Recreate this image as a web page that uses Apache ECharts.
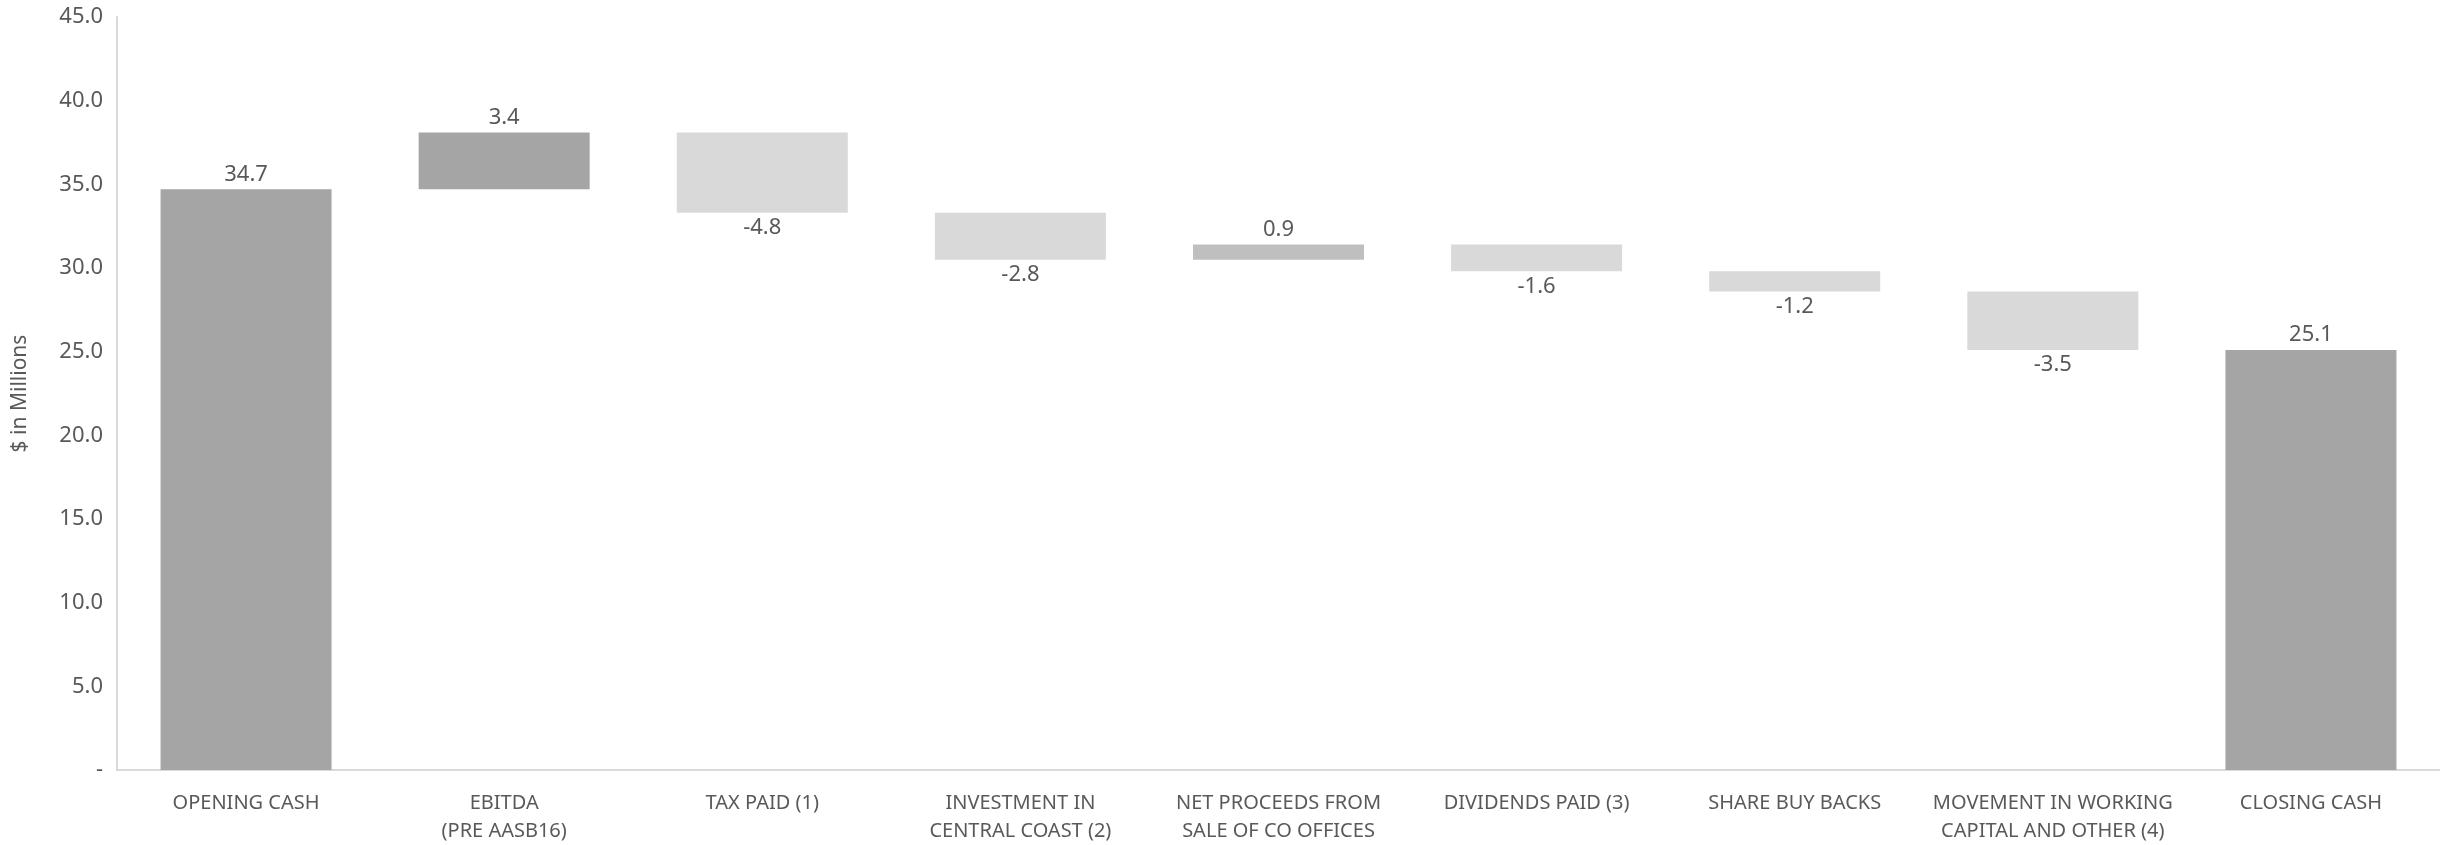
<!DOCTYPE html>
<html>
<head>
<meta charset="utf-8">
<script src="https://cdn.jsdelivr.net/npm/echarts@6/dist/echarts.min.js"></script>
<style>
html,body{margin:0;padding:0;background:#fff;}
#chart{width:2440px;height:845px;}
</style>
</head>
<body>
<div id="chart"></div>
<script>
const categories = ['OPENING CASH', 'EBITDA\n(PRE AASB16)', 'TAX PAID (1)', 'INVESTMENT IN\nCENTRAL COAST (2)', 'NET PROCEEDS FROM\nSALE OF CO OFFICES', 'DIVIDENDS PAID (3)', 'SHARE BUY BACKS', 'MOVEMENT IN WORKING\nCAPITAL AND OTHER (4)', 'CLOSING CASH'];
const values = [34.7, 3.4, -4.8, -2.8, 0.9, -1.6, -1.2, -3.5, 25.1];
const isTotal = [true, false, false, false, false, false, false, false, true];
const barColors = ['#A5A5A5', '#A5A5A5', '#D9D9D9', '#D9D9D9', '#BFBFBF', '#D9D9D9', '#D9D9D9', '#D9D9D9', '#A5A5A5'];
const yTicks = { min: 0, max: 45, interval: 5 };

// build stacked base/visible parts from the values
const baseData = [];
const barData = [];
let running = 0;
values.forEach((v, i) => {
  if (isTotal[i]) {
    baseData.push(0);
    barData.push({ value: v, raw: v, itemStyle: { color: barColors[i] }, label: { position: 'top' } });
    running = v;
  } else {
    const start = running, end = running + v;
    baseData.push(Math.min(start, end));
    barData.push({ value: Math.abs(v), raw: v, itemStyle: { color: barColors[i] }, label: { position: v >= 0 ? 'top' : 'bottom' } });
    running = end;
  }
});

const chart = echarts.init(document.getElementById('chart'), null, { renderer: 'canvas' });
const font = '"Noto Sans", "Open Sans", sans-serif';
chart.setOption({
  animation: false,
  backgroundColor: '#ffffff',
  textStyle: { fontFamily: font },
  grid: { left: 117, right: 0, top: 17, bottom: 75, containLabel: false },
  xAxis: {
    type: 'category',
    data: categories,
    axisLine: { show: true, lineStyle: { color: '#D9D9D9', width: 2 } },
    axisTick: { show: false },
    axisLabel: { color: '#595959', fontSize: 20, lineHeight: 28, margin: 19, fontFamily: font, interval: 0 }
  },
  yAxis: {
    type: 'value',
    min: yTicks.min, max: yTicks.max, interval: yTicks.interval,
    name: '$ in Millions',
    nameLocation: 'middle',
    nameGap: 86,
    nameTextStyle: { color: '#595959', fontSize: 21, fontFamily: font },
    axisLine: { show: true, lineStyle: { color: '#D9D9D9', width: 2 } },
    axisTick: { show: false },
    splitLine: { show: false },
    axisLabel: {
      color: '#595959', fontSize: 22, margin: 14, fontFamily: font,
      formatter: v => v === 0 ? '-' : v.toFixed(1)
    }
  },
  series: [
    {
      type: 'bar', stack: 'wf', data: baseData, barWidth: 171,
      itemStyle: { color: 'transparent' }, silent: true
    },
    {
      type: 'bar', stack: 'wf', data: barData, barWidth: 171,
      label: {
        show: true, color: '#595959', fontSize: 22, distance: 4, fontFamily: font,
        formatter: p => p.data.raw.toFixed(1)
      }
    }
  ]
});
</script>
</body>
</html>
